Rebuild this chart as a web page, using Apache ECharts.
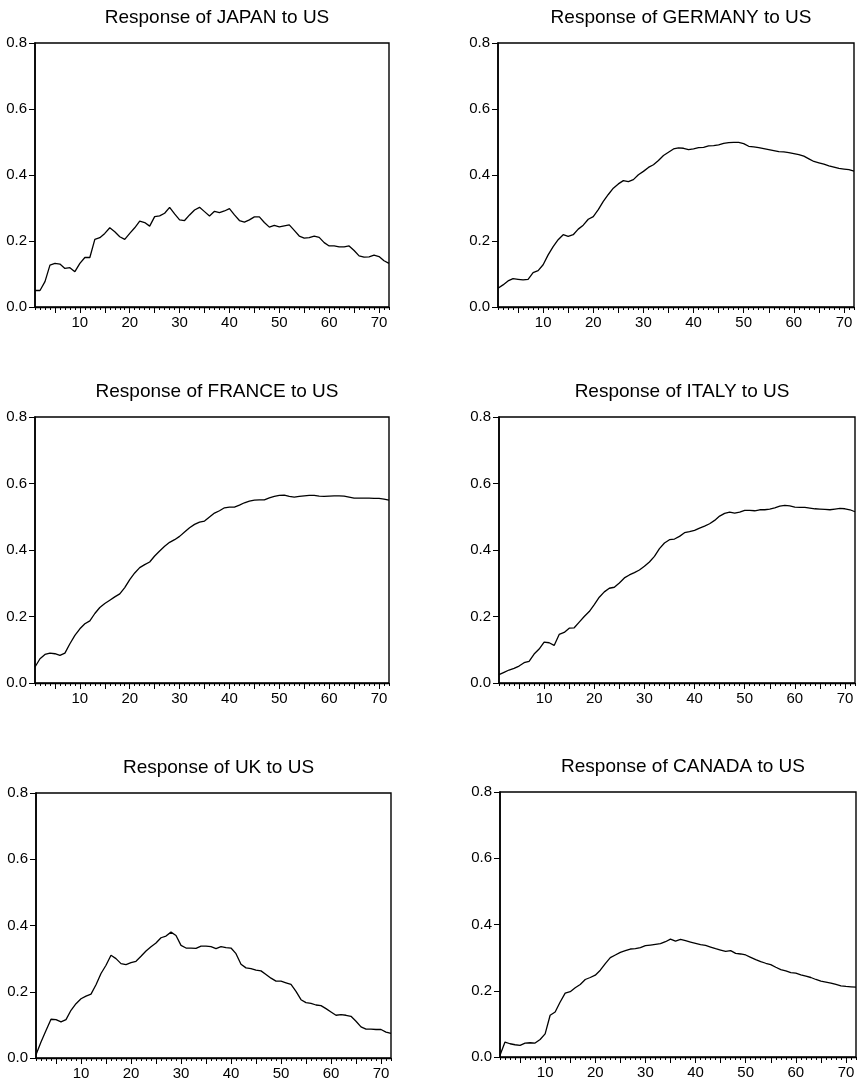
<!DOCTYPE html>
<html>
<head>
<meta charset="utf-8">
<script src="https://cdn.jsdelivr.net/npm/echarts@6/dist/echarts.min.js"></script>
<style>
html,body{margin:0;padding:0;background:#fff;}
#c{width:858px;height:1082px;}
</style>
</head>
<body>
<div id="c"></div>
<script>
const periods = Array.from({length: 72}, (_, i) => String(i + 1));
const yTicks = [0.0, 0.2, 0.4, 0.6, 0.8];
const titles = ['Response of JAPAN to US','Response of GERMANY to US','Response of FRANCE to US','Response of ITALY to US','Response of UK to US','Response of CANADA to US'];

const japan = [0.05,0.05,0.077,0.127,0.132,0.13,0.117,0.119,0.107,0.132,0.15,0.15,0.205,0.21,0.223,0.24,0.228,0.213,0.205,0.223,0.24,0.26,0.256,0.245,0.274,0.276,0.284,0.302,0.282,0.264,0.262,0.279,0.294,0.302,0.289,0.276,0.29,0.286,0.291,0.298,0.279,0.262,0.257,0.264,0.273,0.273,0.256,0.242,0.247,0.243,0.246,0.249,0.232,0.215,0.209,0.21,0.215,0.211,0.195,0.185,0.185,0.182,0.182,0.185,0.171,0.155,0.151,0.152,0.157,0.153,0.14,0.132];
const germany = [0.057,0.067,0.079,0.086,0.084,0.082,0.084,0.104,0.11,0.128,0.158,0.183,0.204,0.219,0.214,0.219,0.236,0.248,0.266,0.274,0.295,0.32,0.341,0.36,0.373,0.383,0.38,0.386,0.401,0.411,0.423,0.431,0.444,0.459,0.469,0.479,0.482,0.481,0.477,0.479,0.483,0.484,0.488,0.489,0.491,0.496,0.498,0.499,0.499,0.495,0.487,0.485,0.483,0.48,0.477,0.474,0.471,0.47,0.468,0.465,0.462,0.457,0.449,0.441,0.437,0.433,0.428,0.424,0.42,0.418,0.416,0.412];
const france = [0.048,0.073,0.086,0.09,0.088,0.083,0.09,0.118,0.143,0.163,0.178,0.187,0.209,0.227,0.239,0.249,0.259,0.268,0.287,0.311,0.331,0.347,0.356,0.364,0.382,0.397,0.411,0.423,0.431,0.441,0.454,0.467,0.477,0.484,0.487,0.499,0.511,0.518,0.527,0.529,0.529,0.535,0.542,0.547,0.55,0.551,0.551,0.557,0.561,0.564,0.565,0.561,0.559,0.561,0.563,0.564,0.564,0.562,0.561,0.562,0.563,0.563,0.562,0.559,0.556,0.556,0.556,0.556,0.555,0.555,0.553,0.55];
const italy = [0.025,0.032,0.039,0.044,0.051,0.061,0.065,0.087,0.102,0.123,0.121,0.113,0.146,0.152,0.165,0.166,0.183,0.2,0.215,0.236,0.258,0.274,0.285,0.288,0.301,0.316,0.325,0.332,0.34,0.351,0.364,0.381,0.404,0.421,0.431,0.433,0.441,0.452,0.455,0.459,0.466,0.472,0.479,0.489,0.502,0.51,0.514,0.511,0.514,0.519,0.519,0.518,0.521,0.521,0.523,0.527,0.532,0.534,0.533,0.529,0.528,0.528,0.526,0.524,0.523,0.522,0.521,0.523,0.525,0.524,0.521,0.515];
const uk = [0.01,0.048,0.083,0.117,0.116,0.109,0.116,0.144,0.164,0.179,0.187,0.193,0.221,0.255,0.28,0.31,0.3,0.285,0.282,0.288,0.292,0.307,0.323,0.336,0.347,0.363,0.368,0.38,0.37,0.34,0.332,0.332,0.331,0.338,0.338,0.336,0.33,0.336,0.333,0.332,0.315,0.283,0.272,0.27,0.265,0.263,0.252,0.241,0.232,0.232,0.227,0.222,0.201,0.176,0.167,0.165,0.16,0.158,0.149,0.139,0.129,0.131,0.129,0.126,0.111,0.094,0.087,0.087,0.086,0.086,0.078,0.074];
const canada = [0.005,0.045,0.04,0.037,0.035,0.042,0.043,0.042,0.053,0.07,0.126,0.136,0.166,0.193,0.197,0.209,0.219,0.234,0.24,0.247,0.262,0.282,0.3,0.308,0.316,0.321,0.326,0.327,0.33,0.336,0.338,0.34,0.342,0.348,0.356,0.35,0.355,0.351,0.347,0.343,0.339,0.337,0.332,0.327,0.323,0.319,0.321,0.313,0.311,0.308,0.301,0.294,0.288,0.283,0.279,0.271,0.264,0.26,0.255,0.253,0.248,0.244,0.24,0.234,0.229,0.226,0.223,0.219,0.215,0.213,0.212,0.211];

const seriesData = [japan, germany, france, italy, uk, canada];
const grids = [
  {left: 35, top: 43, width: 354, height: 264},
  {left: 498, top: 43, width: 356, height: 264},
  {left: 35, top: 417, width: 354, height: 266},
  {left: 499, top: 417, width: 356, height: 266},
  {left: 36, top: 793, width: 355, height: 265},
  {left: 500, top: 792, width: 356, height: 265}
];
const FONT = 'Liberation Sans, Arial, Helvetica, sans-serif';

const option = {
  backgroundColor: '#fff',
  animation: false,
  title: [], grid: [], xAxis: [], yAxis: [], series: []
};

grids.forEach((g, i) => {
  option.title.push({
    text: titles[i],
    left: g.left + g.width / 2,
    top: g.top - 40,
    textAlign: 'center',
    textStyle: {fontFamily: FONT, fontSize: 19, fontWeight: 'normal', color: '#000'}
  });
  option.grid.push({
    left: g.left, top: g.top, width: g.width, height: g.height,
    show: true, borderColor: '#000', borderWidth: 1.4, backgroundColor: '#fff',
    containLabel: false
  });
  option.xAxis.push({
    type: 'category', gridIndex: i, data: periods, boundaryGap: false,
    axisLine: {show: true, lineStyle: {color: '#000', width: 1.4}},
    axisTick: {show: true, inside: false, length: 3, interval: 0, lineStyle: {color: '#000', width: 1}},
    axisLabel: {
      show: true, color: '#000', fontFamily: FONT, fontSize: 15, margin: 8,
      interval: (idx, val) => Number(val) % 10 === 0
    },
    splitLine: {show: false}
  });
  option.xAxis.push({
    type: 'category', gridIndex: i, data: periods, boundaryGap: false,
    position: 'bottom',
    axisLine: {show: false},
    axisTick: {show: true, length: 6, interval: (idx, val) => Number(val) % 5 === 0, lineStyle: {color: '#000', width: 1}},
    axisLabel: {show: false},
    splitLine: {show: false}
  });
  option.yAxis.push({
    type: 'value', gridIndex: i, min: 0, max: 0.8, interval: 0.2,
    axisLine: {show: true, lineStyle: {color: '#000', width: 1.6}},
    axisTick: {show: true, inside: false, length: 6, lineStyle: {color: '#000', width: 1}},
    axisLabel: {
      color: '#000', fontFamily: FONT, fontSize: 15, margin: 8,
      formatter: v => (yTicks.find(t => Math.abs(t - v) < 1e-9) ?? v).toFixed(1)
    },
    splitLine: {show: false}
  });
  option.series.push({
    type: 'line', xAxisIndex: i * 2, yAxisIndex: i, data: seriesData[i],
    showSymbol: false, symbol: 'none', smooth: false,
    lineStyle: {color: '#000', width: 1.3}
  });
});

const chart = echarts.init(document.getElementById('c'), null, {renderer: 'canvas'});
chart.setOption(option);
</script>
</body>
</html>
